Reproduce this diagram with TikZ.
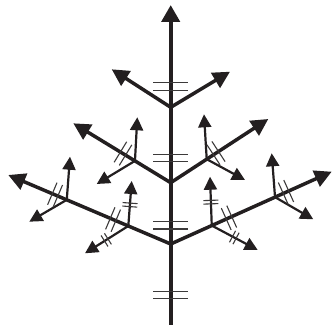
\documentclass[tikz,border=0pt]{standalone}
\usepackage{tikz}
\usetikzlibrary{arrows.meta}
\definecolor{treeblack}{RGB}{35,31,32}
\definecolor{tickgray}{RGB}{60,58,58}

\begin{document}
\begin{tikzpicture}[x=1pt, y=-1pt,
    trunk/.style={-{Triangle[length=17pt, width=18pt]}, line width=4.4pt, draw=treeblack},
    limb/.style={-{Triangle[length=17pt, width=17pt]}, line width=3.5pt, draw=treeblack},
    twig/.style={-{Triangle[length=13pt, width=13pt]}, line width=2.2pt, draw=treeblack},
    tick/.style={-, line width=1.1pt, draw=tickgray},
    cut/.style 2 args={sloped, inner sep=0pt, outer sep=0pt, minimum width=#1, minimum height=#2,
        append after command={(\tikzlastnode.north west) edge[tick] (\tikzlastnode.south west)
            (\tikzlastnode.north east) edge[tick] (\tikzlastnode.south east)}}
]
\useasboundingbox (0,0) rectangle (332,328);

% Trunk and junctions
\coordinate (base) at (170.7,325);
\coordinate (top) at (170.7,5);
\coordinate (j1) at (170.7,107.3);
\coordinate (j2) at (170.7,182.7);
\coordinate (j3) at (170.7,244);

% Branch tips
\coordinate (l1) at (111.7,69.3);
\coordinate (r1) at (230,71.7);
\coordinate (l2) at (73.3,123.3);
\coordinate (r2) at (268.3,119);
\coordinate (l3) at (8.3,175);
\coordinate (r3) at (331.7,171.7);

% Main branches
\draw[limb] (j1) -- (l1);
\draw[limb] (j1) -- (r1);
\draw[limb] (j2) -- (l2);
\draw[limb] (j2) -- (r2);
\draw[limb] (j3) -- (l3);
\draw[limb] (j3) -- (r3);

% Side shoots
\path (j2) -- coordinate[pos=.367] (l2s) (l2);
\path (j2) -- coordinate[pos=.369] (r2s) (r2);
\path (j3) -- coordinate[pos=.261] (l3i) (l3);
\path (j3) -- coordinate[pos=.64] (l3o) (l3);
\path (j3) -- coordinate[pos=.255] (r3i) (r3);
\path (j3) -- coordinate[pos=.648] (r3o) (r3);

\coordinate (l2su) at (137.3,117.3);
\coordinate (l2sd) at (96.7,184);
\coordinate (r2su) at (204,114.3);
\coordinate (r2sd) at (245,180);
\coordinate (l3iu) at (131.7,181);
\coordinate (l3id) at (85,253.3);
\coordinate (l3ou) at (70,156.7);
\coordinate (l3od) at (29.3,221.7);
\coordinate (r3iu) at (210,176.7);
\coordinate (r3id) at (257.7,250);
\coordinate (r3ou) at (271.7,153.3);
\coordinate (r3od) at (313.3,219.3);

\draw[twig] (l2s) -- (l2su);
\draw[twig] (l2s) -- (l2sd);
\draw[twig] (r2s) -- (r2su);
\draw[twig] (r2s) -- (r2sd);
\draw[twig] (l3i) -- (l3iu);
\draw[twig] (l3i) -- (l3id);
\draw[twig] (l3o) -- (l3ou);
\draw[twig] (l3o) -- (l3od);
\draw[twig] (r3i) -- (r3iu);
\draw[twig] (r3i) -- (r3id);
\draw[twig] (r3o) -- (r3ou);
\draw[twig] (r3o) -- (r3od);

% Trunk
\draw[trunk] (base) -- (top);

% Cut marks
\path (base) -- node[cut={7.7pt}{35pt}, pos=.094] (c1) {} node[cut={7.7pt}{35pt}, pos=.312] (c2) {}
    node[cut={7.7pt}{35pt}, pos=.522] (c3) {} node[cut={7.7pt}{35pt}, pos=.746] (c4) {} (top);
\path (j2) -- node[cut={6pt}{24pt}, pos=.49] (cl2) {} (l2);
\path (j2) -- node[cut={6pt}{24pt}, pos=.464] (cr2) {} (r2);
\path (j3) -- node[cut={6pt}{24pt}, pos=.355] (cl3i) {} node[cut={6pt}{24pt}, pos=.712] (cl3o) {} (l3);
\path (j3) -- node[cut={6pt}{24pt}, pos=.362] (cr3i) {} node[cut={6pt}{24pt}, pos=.716] (cr3o) {} (r3);
\path (l3i) -- node[cut={3.5pt}{15pt}, pos=.47] (cl3iu) {} (l3iu);
\path (l3i) -- node[cut={4pt}{13pt}, pos=.51] (cl3id) {} (l3id);
\path (r3i) -- node[cut={3.5pt}{15pt}, pos=.48] (cr3iu) {} (r3iu);
\path (r3i) -- node[cut={4pt}{13pt}, pos=.49] (cr3id) {} (r3id);

\end{tikzpicture}
\end{document}
